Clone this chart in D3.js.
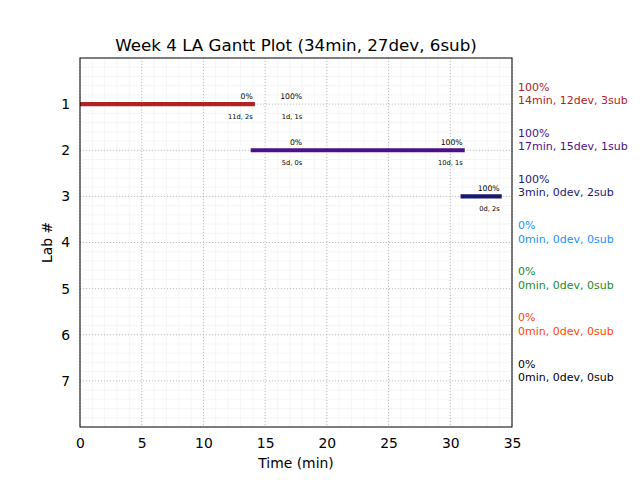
<!DOCTYPE html>
<html><head><meta charset="utf-8">
<script src="https://cdn.jsdelivr.net/npm/d3@7"></script>
<style>
body{margin:0;background:#fff;}
text{font-family:"DejaVu Sans",sans-serif;}
</style></head>
<body><svg id="c" width="640" height="480"></svg>
<script>
const title = "Week 4 LA Gantt Plot (34min, 27dev, 6sub)";
const labs = [1, 2, 3, 4, 5, 6, 7];
const labColors = ["#b22222", "#4b0f8c", "#191970", "#1e90ff", "#228b22", "#ff4500", "#000000"];
const barLabs = [1, 2, 3];
const barStarts = [0, 14, 31];
const barEnds = [14, 31, 34];
const annLabs = [1, 1, 2, 2, 3];
const annX = [14, 18, 18, 31, 34];
const annTop = ["0%", "100%", "0%", "100%", "100%"];
const annBottom = ["11d, 2s", "1d, 1s", "5d, 0s", "10d, 1s", "0d, 2s"];
const sidePct = ["100%", "100%", "100%", "0%", "0%", "0%", "0%"];
const sideStats = ["14min, 12dev, 3sub", "17min, 15dev, 1sub", "3min, 0dev, 2sub", "0min, 0dev, 0sub", "0min, 0dev, 0sub", "0min, 0dev, 0sub", "0min, 0dev, 0sub"];
const xTicks = [0, 5, 10, 15, 20, 25, 30, 35];

const svg = d3.select("#c");
const L = 80, R = 512, T = 58, B = 427;
const x = d3.scaleLinear().domain([0, 35]).range([L, R]);
const y = d3.scaleLinear().domain([0, 8]).range([T, B]);

svg.append("defs").append("clipPath").attr("id", "clip")
  .append("rect").attr("x", L).attr("y", T).attr("width", R - L).attr("height", B - T);

const g = svg.append("g");
// minor grid
g.selectAll(".mx").data(d3.range(0, 36, 1)).enter().append("line")
  .attr("x1", d => x(d)).attr("x2", d => x(d)).attr("y1", T).attr("y2", B)
  .attr("stroke", "#f4f4f4").attr("stroke-width", 0.8);
g.selectAll(".my").data(d3.range(0, 41).map(i => i * 0.2)).enter().append("line")
  .attr("y1", d => y(d)).attr("y2", d => y(d)).attr("x1", L).attr("x2", R)
  .attr("stroke", "#f4f4f4").attr("stroke-width", 0.8);
// major grid
g.selectAll(".gx").data(xTicks).enter().append("line")
  .attr("x1", d => x(d)).attr("x2", d => x(d)).attr("y1", T).attr("y2", B)
  .attr("stroke", "#b0b0b0").attr("stroke-width", 0.8).attr("stroke-dasharray", "1,2");
g.selectAll(".gy").data(labs).enter().append("line")
  .attr("y1", d => y(d)).attr("y2", d => y(d)).attr("x1", L).attr("x2", R)
  .attr("stroke", "#b0b0b0").attr("stroke-width", 0.8).attr("stroke-dasharray", "1,2");

// bars
svg.append("g").attr("clip-path", "url(#clip)").selectAll("line").data(barLabs).enter().append("line")
  .attr("x1", (d, i) => x(barStarts[i])).attr("x2", (d, i) => x(barEnds[i]))
  .attr("y1", d => y(d)).attr("y2", d => y(d))
  .attr("stroke", d => labColors[d - 1]).attr("stroke-width", 4.2).attr("stroke-linecap", "square");

// annotations
annLabs.forEach((lab, i) => {
  svg.append("text").attr("x", x(annX[i])).attr("y", y(lab) - 5.5)
    .attr("text-anchor", "end").attr("font-size", 7.7).attr("fill", "#000").text(annTop[i]);
  svg.append("text").attr("x", x(annX[i])).attr("y", y(lab) + 14.5)
    .attr("text-anchor", "end").attr("font-size", 6.7).attr("fill", "#000").text(annBottom[i]);
});

// frame
svg.append("rect").attr("x", L).attr("y", T).attr("width", R - L).attr("height", B - T)
  .attr("fill", "none").attr("stroke", "#000").attr("stroke-width", 1);

// axes
const xAxis = d3.axisBottom(x).tickValues(xTicks).tickSize(0).tickPadding(11);
const xg = svg.append("g").attr("transform", `translate(0,${B})`).call(xAxis);
const yAxis = d3.axisLeft(y).tickValues(labs).tickSize(0).tickPadding(10);
const yg = svg.append("g").attr("transform", `translate(${L},0)`).call(yAxis);
[xg, yg].forEach(a => {
  a.select(".domain").remove();
  a.selectAll("text").attr("font-size", 13.9).attr("font-family", "DejaVu Sans").attr("fill", "#000");
});

// side texts
labs.forEach((lab, i) => {
  svg.append("text").attr("x", 518).attr("y", y(lab) - 13.3).attr("font-size", 11)
    .attr("fill", labColors[i]).text(sidePct[i]);
  svg.append("text").attr("x", 518).attr("y", y(lab)).attr("font-size", 11)
    .attr("fill", labColors[i]).text(sideStats[i]);
});

// titles
svg.append("text").attr("x", (L + R) / 2).attr("y", 51).attr("text-anchor", "middle")
  .attr("font-size", 16.7).text(title);
svg.append("text").attr("x", (L + R) / 2).attr("y", 468).attr("text-anchor", "middle")
  .attr("font-size", 13.9).text("Time (min)");
svg.append("text").attr("transform", `translate(52,${(T + B) / 2}) rotate(-90)`)
  .attr("text-anchor", "middle").attr("font-size", 13.9).text("Lab #");
</script></body></html>
